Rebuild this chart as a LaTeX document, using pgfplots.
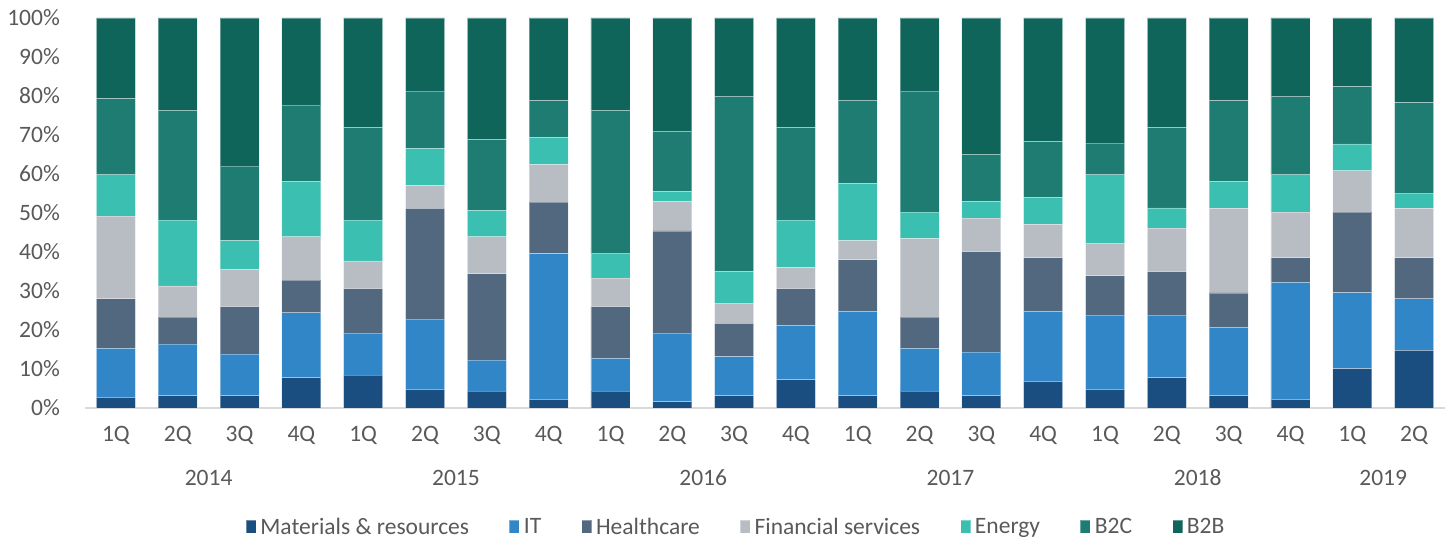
\documentclass[border=0pt]{standalone}
\usepackage{fontspec}
\setmainfont{Carlito}
\usepackage{pgfplots}
\usepackage{pgfplotstable}
\pgfplotsset{compat=1.18}

\definecolor{cMat}{RGB}{26,78,128}
\definecolor{cIT}{RGB}{49,134,199}
\definecolor{cHC}{RGB}{82,104,126}
\definecolor{cFS}{RGB}{184,188,195}
\definecolor{cEn}{RGB}{58,191,177}
\definecolor{cBC}{RGB}{30,124,115}
\definecolor{cBB}{RGB}{16,101,91}
\definecolor{txt}{RGB}{89,89,89}
\definecolor{axl}{RGB}{217,217,217}

% share of deals by sector, per quarter (percent)
\pgfplotstableread{
x  M    IT   HC   FS   E    BC   BB
0  2.7  12.6 12.7 21.2 10.6 19.5 20.7
1  3.2  13.2 6.9  8.0  16.9 28.1 23.7
2  3.2  10.6 12.2 9.5  7.4  19.1 38.0
3  7.8  16.6 8.4  11.1 14.2 19.6 22.3
4  8.4  10.8 11.4 7.1  10.5 23.7 28.1
5  4.8  18.0 28.4 5.9  9.5  14.7 18.7
6  4.3  8.0  22.1 9.5  6.8  18.1 31.2
7  2.2  37.4 13.2 9.6  6.9  9.5  21.2
8  4.3  8.4  13.3 7.3  6.4  36.6 23.7
9  1.6  17.6 26.2 7.5  2.6  15.3 29.2
10 3.2  10.0 8.5  5.2  8.1  44.8 20.2
11 7.3  13.9 9.4  5.4  12.2 23.7 28.1
12 3.2  21.6 13.2 4.9  14.7 21.3 21.1
13 4.3  11.0 8.0  20.1 6.8  31.1 18.7
14 3.2  11.1 25.8 8.6  4.2  12.1 35.0
15 6.8  18.0 13.7 8.6  6.9  14.3 31.7
16 4.8  19.0 10.1 8.4  17.5 8.1  32.1
17 7.8  16.0 11.2 11.1 5.2  20.6 28.1
18 3.2  17.5 8.8  21.7 6.9  20.7 21.2
19 2.2  30.0 6.3  11.7 9.6  20.0 20.2
20 10.1 19.5 20.6 10.6 6.9  14.7 17.6
21 14.8 13.2 10.5 12.7 3.9  23.2 21.7
}\datatable

\begin{document}
\begin{tikzpicture}
\useasboundingbox (-85bp,-134bp) rectangle (1360bp,408bp);
\begin{axis}[
    at={(0,0)}, anchor=south west,
    scale only axis,
    width=1360bp, height=390bp,
    ybar stacked,
    bar width=39bp,
    xmin=-0.5, xmax=21.5,
    ymin=0, ymax=100,
    axis x line*=bottom,
    axis y line*=left,
    x axis line style={draw=axl, line width=1.5bp, -},
    y axis line style={draw=none},
    major tick length=0pt,
    xtick={0,...,21},
    xticklabels={1Q,2Q,3Q,4Q,1Q,2Q,3Q,4Q,1Q,2Q,3Q,4Q,1Q,2Q,3Q,4Q,1Q,2Q,3Q,4Q,1Q,2Q},
    extra x ticks={1.5,5.5,9.5,13.5,17.5,20.5},
    extra x tick labels={2014,2015,2016,2017,2018,2019},
    extra x tick style={xticklabel style={yshift=-43bp}},
    ytick={0,10,...,100},
    yticklabels={0\%,10\%,20\%,30\%,40\%,50\%,60\%,70\%,80\%,90\%,100\%},
    /pgf/number format/assume math mode=true,
    tick label style={font=\fontsize{23.5bp}{28bp}\selectfont, text=txt},
    xticklabel style={anchor=center, yshift=-27bp},
    yticklabel style={anchor=east, inner sep=0pt, xshift=-25bp},
    legend columns=-1,
    legend style={draw=none, fill=none, at={(0.4794,-0.305)}, anchor=center,
        font=\fontsize{23.5bp}{28bp}\selectfont, text=txt,
        nodes={inner xsep=4bp},
        /tikz/every even column/.append style={column sep=36bp}},
    legend image code/.code={\fill[#1] (0bp,-6.5bp) rectangle (10bp,6.5bp);},
    every axis plot/.append style={draw=white, draw opacity=0.35, line width=0.8bp},
]
\addplot[fill=cMat] table[x=x, y=M] {\datatable};
\addlegendentry{Materials \& resources}
\addplot[fill=cIT] table[x=x, y=IT] {\datatable};
\addlegendentry{IT}
\addplot[fill=cHC] table[x=x, y=HC] {\datatable};
\addlegendentry{Healthcare}
\addplot[fill=cFS] table[x=x, y=FS] {\datatable};
\addlegendentry{Financial services}
\addplot[fill=cEn] table[x=x, y=E] {\datatable};
\addlegendentry{Energy}
\addplot[fill=cBC] table[x=x, y=BC] {\datatable};
\addlegendentry{B2C}
\addplot[fill=cBB] table[x=x, y=BB] {\datatable};
\addlegendentry{B2B}
\end{axis}
\end{tikzpicture}
\end{document}
